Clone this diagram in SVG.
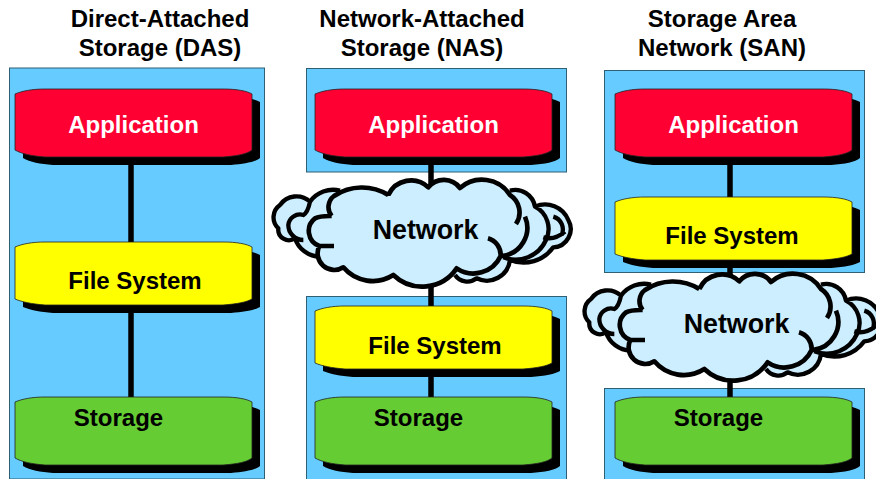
<svg xmlns="http://www.w3.org/2000/svg" width="876" height="479" viewBox="0 0 876 479">
<style>
text{font-family:"Liberation Sans",Arial,sans-serif;font-weight:700;font-size:24px;text-anchor:middle;fill:#000}
.t{fill:#fff}
.net{font-size:26.800px}
.panel{fill:#66ccff;stroke:#2f5f73;stroke-width:1}
.conn{stroke:#000;stroke-width:5.500;fill:none}
.shadow{fill:#000}
.body{stroke:#222;stroke-width:.8}
.red{fill:#ff0033}.yel{fill:#ffff00}.grn{fill:#66cc33}
.cf{fill:#cceeff;stroke:none}
.cs{fill:none;stroke:#000;stroke-width:14;stroke-linecap:butt;stroke-linejoin:round}
.cb{stroke-width:13}
</style>
<defs>
<path id="n68" d="M0,5 C7,2 17,0 30,0 H208 C222,0 232,2 237,5 V61 C232,65 222,67 208,68 H30 C17,67 7,65 0,61 Z"/>
<path id="n63" d="M0,5 C7,2 17,0 30,0 H208 C222,0 232,2 237,5 V57 C232,60 222,62 208,63 H30 C17,62 7,60 0,57 Z"/>
<g id="cloud" transform="scale(.3333)">
<path class="cf" d="M240,92 A85,85 0 0 0 150,125 A60,60 0 0 0 60,135 A45,45 0 0 0 55,205 A32,32 0 0 0 105,235 A80,80 0 0 0 178,290 L585,345 A45,45 0 0 0 650,355 A70,70 0 0 0 750,300 A110,110 0 0 0 880,262 A55,55 0 0 0 925,180 A75,75 0 0 0 825,140 A60,60 0 0 0 750,92 Z"/>
<path class="cs cb" d="M240,92 A85,85 0 0 0 150,125 A60,60 0 0 0 60,135 A45,45 0 0 0 55,205 A32,32 0 0 0 105,235 A80,80 0 0 0 178,290 M150,125 C145,150 140,160 130,165 A35,35 0 0 0 85,195 A45,45 0 0 0 130,240 M750,92 A60,60 0 0 1 825,140 A75,75 0 0 1 925,180 A55,55 0 0 1 880,262 A110,110 0 0 1 750,300 A70,70 0 0 1 650,355 A45,45 0 0 1 585,345 M825,140 A75,75 0 0 1 858,240 A100,100 0 0 1 730,292 M880,170 A40,40 0 0 1 905,225 M850,232 C870,238 895,232 915,215"/>
<path class="cf" d="M222,108 A150,150 0 0 1 385,105 A75,75 0 0 1 505,80 A60,60 0 0 1 600,82 A100,100 0 0 1 750,105 A60,60 0 0 1 795,170 A85,85 0 0 1 725,288 A90,90 0 0 1 590,325 A125,125 0 0 1 400,345 A115,115 0 0 1 250,322 A50,50 0 0 1 178,258 A48,48 0 0 1 165,175 L215,165 A40,40 0 0 1 222,108 Z"/>
<path class="cs" d="M215,168 A42,42 0 0 1 222,108 A150,150 0 0 1 385,105 M385,105 A75,75 0 0 1 505,82 A60,60 0 0 1 600,84 A100,100 0 0 1 750,105 A62,62 0 0 1 768,192 M795,170 A85,85 0 0 1 725,288 M684,235 A52,52 0 0 1 722,288 A90,90 0 0 1 590,325 A125,125 0 0 1 400,345 A115,115 0 0 1 250,322 A50,50 0 0 1 178,258 L222,258 M178,258 A48,48 0 0 1 165,175 C180,167 200,168 215,168"/>
</g>
</defs>
<g id="panels">
<rect class="panel" x="9.500" y="68" width="255" height="411"/>
<rect class="panel" x="306.500" y="68.500" width="260" height="103.500"/>
<rect class="panel" x="306.500" y="296.500" width="260" height="183"/>
<rect class="panel" x="604.500" y="70.500" width="260" height="202"/>
<rect class="panel" x="604.500" y="388.500" width="260" height="91"/>
</g>
<g id="connectors">
<path class="conn" d="M131,157V398"/>
<path class="conn" d="M431,157V398"/>
<path class="conn" d="M730,157V398"/>
</g>
<g id="title-das"><text x="160" y="27">Direct-Attached</text><text x="160" y="56">Storage (DAS)</text></g>
<g id="title-nas"><text x="422" y="27">Network-Attached</text><text x="422" y="56">Storage (NAS)</text></g>
<g id="title-san"><text x="722" y="27">Storage Area</text><text x="722" y="56">Network (SAN)</text></g>
<g id="das-application"><use href="#n68" class="shadow" x="23" y="97"/><use href="#n68" class="red body" x="15" y="89"/><text class="t" x="133.500" y="133">Application</text></g>
<g id="das-filesystem"><use href="#n63" class="shadow" x="23" y="250"/><use href="#n63" class="yel body" x="15" y="242"/><text x="135" y="289">File System</text></g>
<g id="das-storage"><use href="#n68" class="shadow" x="23" y="405"/><use href="#n68" class="grn body" x="15" y="397"/><text x="118.500" y="426">Storage</text></g>
<g id="nas-application"><use href="#n68" class="shadow" x="323" y="97"/><use href="#n68" class="red body" x="315" y="89"/><text class="t" x="433.500" y="133">Application</text></g>
<g id="nas-filesystem"><use href="#n63" class="shadow" x="323" y="314"/><use href="#n63" class="yel body" x="315" y="306"/><text x="435" y="354">File System</text></g>
<g id="nas-storage"><use href="#n68" class="shadow" x="323" y="405"/><use href="#n68" class="grn body" x="315" y="397"/><text x="418.500" y="426">Storage</text></g>
<g id="nas-network"><use href="#cloud" x="260" y="160"/><text class="net" x="425.500" y="239">Network</text></g>
<g id="san-application"><use href="#n68" class="shadow" x="623" y="97"/><use href="#n68" class="red body" x="615" y="89"/><text class="t" x="733.500" y="133">Application</text></g>
<g id="san-filesystem"><use href="#n63" class="shadow" x="623" y="205"/><use href="#n63" class="yel body" x="615" y="197"/><text x="732" y="244">File System</text></g>
<g id="san-storage"><use href="#n68" class="shadow" x="623" y="405"/><use href="#n68" class="grn body" x="615" y="397"/><text x="718.500" y="426">Storage</text></g>
<g id="san-network"><use href="#cloud" x="571" y="254"/><text class="net" x="736.500" y="333">Network</text></g>
</svg>
